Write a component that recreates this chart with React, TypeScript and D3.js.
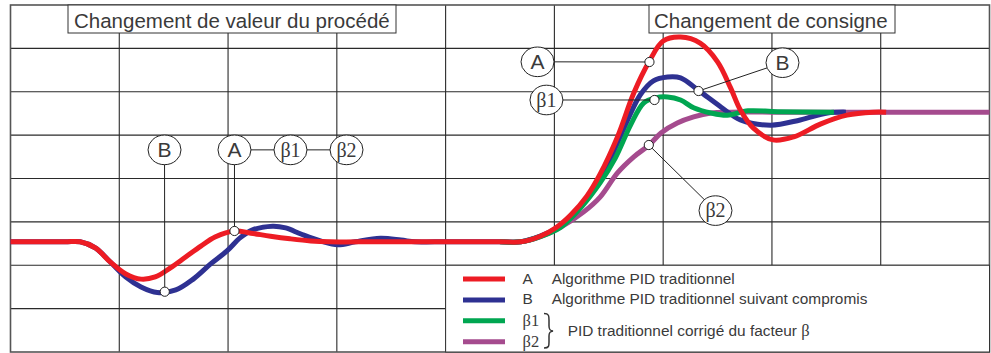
import React from "react";
import * as d3 from "d3";

const WIDTH = 991;
const HEIGHT = 353;
const COLS = 9;
const ROWS = 8;

// data: [time (grid columns), value (grid rows)]
const seriesA: [number, number][] = [
  [0, 2.54], [0.5, 2.54], [0.64, 2.54], [0.78, 2.4], [0.92, 2.07], [1.06, 1.8], [1.2, 1.68], [1.33, 1.73],
  [1.47, 1.94], [1.61, 2.19], [1.75, 2.44], [1.88, 2.65], [2.06, 2.79], [2.21, 2.74], [2.39, 2.67],
  [2.57, 2.61], [2.76, 2.56], [2.94, 2.54], [3.2, 2.54], [4.5, 2.54], [4.69, 2.54], [4.87, 2.67], [5.01, 2.86],
  [5.15, 3.16], [5.3, 3.6], [5.42, 4.1], [5.58, 4.96], [5.73, 5.97], [5.87, 6.69], [6.0, 7.17],
  [6.16, 7.26], [6.34, 7.12], [6.5, 6.69], [6.62, 6.09], [6.71, 5.58], [6.83, 5.16], [7.01, 4.89],
  [7.2, 4.96], [7.45, 5.26], [7.69, 5.46], [7.93, 5.53], [8.05, 5.53],
];

const seriesB: [number, number][] = [
  [0, 2.54], [0.5, 2.54], [0.64, 2.54], [0.78, 2.4], [0.92, 2.07], [1.06, 1.73], [1.2, 1.5], [1.35, 1.37],
  [1.52, 1.43], [1.68, 1.68], [1.84, 2.03], [1.99, 2.33], [2.11, 2.63], [2.22, 2.81], [2.41, 2.9],
  [2.53, 2.86], [2.67, 2.72], [2.85, 2.56], [3.01, 2.47], [3.17, 2.54], [3.4, 2.62], [3.59, 2.58],
  [3.72, 2.54], [3.9, 2.54], [4.5, 2.54], [4.69, 2.54], [4.87, 2.67], [5.01, 2.84], [5.19, 3.21], [5.38, 3.8],
  [5.53, 4.54], [5.67, 5.33], [5.79, 5.93], [5.91, 6.25], [6.04, 6.34], [6.16, 6.32], [6.33, 6.02],
  [6.53, 5.65], [6.71, 5.35], [6.99, 5.23], [7.26, 5.35], [7.51, 5.51], [7.68, 5.53],
];

const seriesBeta1: [number, number][] = [
  [4.5, 2.54], [4.69, 2.54], [4.87, 2.66], [5.06, 2.88], [5.24, 3.32], [5.42, 3.9], [5.56, 4.47],
  [5.7, 5.23], [5.82, 5.74], [5.93, 5.86], [6.04, 5.88], [6.16, 5.81], [6.28, 5.63], [6.44, 5.51],
  [6.59, 5.46], [6.78, 5.56], [7.05, 5.54], [7.57, 5.53],
];

const seriesBeta2: [number, number][] = [
  [4.5, 2.54], [4.69, 2.54], [4.87, 2.66], [5.06, 2.88], [5.27, 3.23], [5.42, 3.57], [5.58, 4.13],
  [5.73, 4.5], [5.87, 4.77], [5.98, 5.05], [6.13, 5.28], [6.28, 5.42], [6.44, 5.51], [6.62, 5.53],
  [7.0, 5.53], [9, 5.53],
];

const seriesColors = ["#A54B8E", "#2E3192", "#00A651", "#ED1C24"]; // draw order: β2, B, β1, A
const seriesList = [seriesBeta2, seriesB, seriesBeta1, seriesA];

// annotation labels (circle) and markers
const labelNames = ["B", "A", "β1", "β2", "A", "β1", "B", "β2"];
const labelPos: [number, number][] = [
  [1.416, 4.66], [2.059, 4.66], [2.574, 4.66], [3.089, 4.66],
  [4.845, 6.69], [4.927, 5.81], [7.097, 6.67], [6.481, 3.26],
];
const markerPos: [number, number][] = [
  [1.418, 1.39], [2.059, 2.79], [5.874, 6.686], [5.92, 5.81], [6.325, 6.017], [5.868, 4.772],
];
// [label index, marker index]
const leaders: [number, number][] = [[0, 0], [1, 1], [4, 2], [5, 3], [6, 4], [7, 5]];
// label-to-label connectors
const connectors: [number, number][] = [[1, 2], [2, 3]];

const titles = ["Changement de valeur du procédé", "Changement de consigne"];

const legendKeys = ["A", "B", "β1", "β2"];
const legendColors = ["#ED1C24", "#2E3192", "#00A651", "#A54B8E"];
const legendTexts = [
  "Algorithme PID traditionnel",
  "Algorithme PID traditionnel suivant compromis",
];
const legendGroupText = "PID traditionnel corrigé du facteur ";
const legendGroupSymbol = "β";

const SANS = "'Liberation Sans', Arial, Helvetica, sans-serif";
const SERIF = "'Liberation Serif', 'Times New Roman', serif";
const TEXT = "#3a3a3a";

export default function App() {
  const x = d3.scaleLinear().domain([0, COLS]).range([10.5, 989.5]);
  const y = d3.scaleLinear().domain([0, ROWS]).range([352, 5]);

  const line = d3
    .line<[number, number]>()
    .x((d) => x(d[0]))
    .y((d) => y(d[1]))
    .curve(d3.curveCatmullRom.alpha(0.5));

  const vLines = d3.range(1, COLS);
  const hLines = d3.range(1, ROWS);

  const legendY = (i: number) => 279 + i * 20.9;

  return (
    <svg
      width={WIDTH}
      height={HEIGHT}
      style={{ position: "absolute", left: 0, top: 0, background: "#fff" }}
    >
      <rect x={0} y={0} width={WIDTH} height={HEIGHT} fill="#fff" />
      {/* grid */}
      <g stroke="#2a2a2a" strokeWidth={1.1}>
        {vLines.map((c) => (
          <line key={"v" + c} x1={x(c)} x2={x(c)} y1={y(ROWS)} y2={y(0)} />
        ))}
        {hLines.map((r) => (
          <line key={"h" + r} x1={x(0)} x2={x(COLS)} y1={y(r)} y2={y(r)} />
        ))}
      </g>
      <rect
        x={x(0)}
        y={y(ROWS)}
        width={x(COLS) - x(0)}
        height={y(0) - y(ROWS)}
        fill="none"
        stroke="#555"
        strokeWidth={1.6}
      />

      {/* title boxes */}
      <g>
        <rect x={68} y={y(ROWS)} width={328} height={28} fill="#fff" stroke="#333" strokeWidth={1} />
        <text x={74} y={27.5} fontFamily={SANS} fontSize={20.5} fill={TEXT}>
          {titles[0]}
        </text>
        <rect x={649} y={y(ROWS)} width={246} height={28} fill="#fff" stroke="#333" strokeWidth={1} />
        <text x={654} y={27.5} fontFamily={SANS} fontSize={20.5} fill={TEXT}>
          {titles[1]}
        </text>
      </g>

      {/* legend box */}
      <rect
        x={x(4)}
        y={y(2)}
        width={x(COLS) - x(4)}
        height={y(0) - y(2)}
        fill="#fff"
        stroke="#333"
        strokeWidth={1}
      />

      {/* curves */}
      <g fill="none" strokeWidth={5} strokeLinejoin="round">
        {seriesList.map((s, i) => (
          <path key={"s" + i} d={line(s) || ""} stroke={seriesColors[i]} />
        ))}
      </g>

      {/* leaders */}
      <g stroke="#222" strokeWidth={1}>
        {leaders.map(([li, mi], i) => (
          <line
            key={"l" + i}
            x1={x(labelPos[li][0])}
            y1={y(labelPos[li][1])}
            x2={x(markerPos[mi][0])}
            y2={y(markerPos[mi][1])}
          />
        ))}
        {connectors.map(([a, b], i) => (
          <line
            key={"c" + i}
            x1={x(labelPos[a][0])}
            y1={y(labelPos[a][1])}
            x2={x(labelPos[b][0])}
            y2={y(labelPos[b][1])}
          />
        ))}
      </g>

      {/* label circles */}
      <g>
        {labelNames.map((n, i) => {
          const cx = x(labelPos[i][0]);
          const cy = y(labelPos[i][1]);
          const isBeta = n.startsWith("β");
          return (
            <g key={"lab" + i}>
              <ellipse cx={cx} cy={cy} rx={16.5} ry={14.8} fill="#fff" stroke="#222" strokeWidth={1} />
              <text
                x={cx}
                y={cy + (isBeta ? 6.8 : 7.4)}
                textAnchor="middle"
                fontFamily={isBeta ? SERIF : SANS}
                fontSize={isBeta ? 20 : 21}
                fill={TEXT}
              >
                {n}
              </text>
            </g>
          );
        })}
      </g>

      {/* markers */}
      <g>
        {markerPos.map((p, i) => (
          <circle key={"m" + i} cx={x(p[0])} cy={y(p[1])} r={4.6} fill="#fff" stroke="#222" strokeWidth={1} />
        ))}
      </g>

      {/* legend content */}
      <g>
        {legendKeys.map((k, i) => (
          <g key={"lg" + i}>
            <line x1={463} x2={505} y1={legendY(i)} y2={legendY(i)} stroke={legendColors[i]} strokeWidth={5} />
            <text
              x={522.5}
              y={legendY(i) + (i < 2 ? 4.5 : 5.5)}
              fontFamily={i < 2 ? SANS : SERIF}
              fontSize={i < 2 ? 15.4 : 16.5}
              fill={TEXT}
            >
              {k}
            </text>
            {i < 2 && (
              <text x={551.7} y={legendY(i) + 4.5} fontFamily={SANS} fontSize={15.4} fill={TEXT}>
                {legendTexts[i]}
              </text>
            )}
          </g>
        ))}
        <path
          d="M544,313.5 C549,313.5 549,316 549,320 L549,326 C549,329.5 550,330.5 553,331 C550,331.5 549,332.5 549,336 L549,342 C549,346 549,348 544,348"
          fill="none"
          stroke="#333"
          strokeWidth={1.5}
        />
        <text x={567.7} y={335.5} fontFamily={SANS} fontSize={15.4} fill={TEXT}>
          {legendGroupText}
          <tspan fontFamily={SERIF} fontSize={16.5}>
            {legendGroupSymbol}
          </tspan>
        </text>
      </g>
    </svg>
  );
}
